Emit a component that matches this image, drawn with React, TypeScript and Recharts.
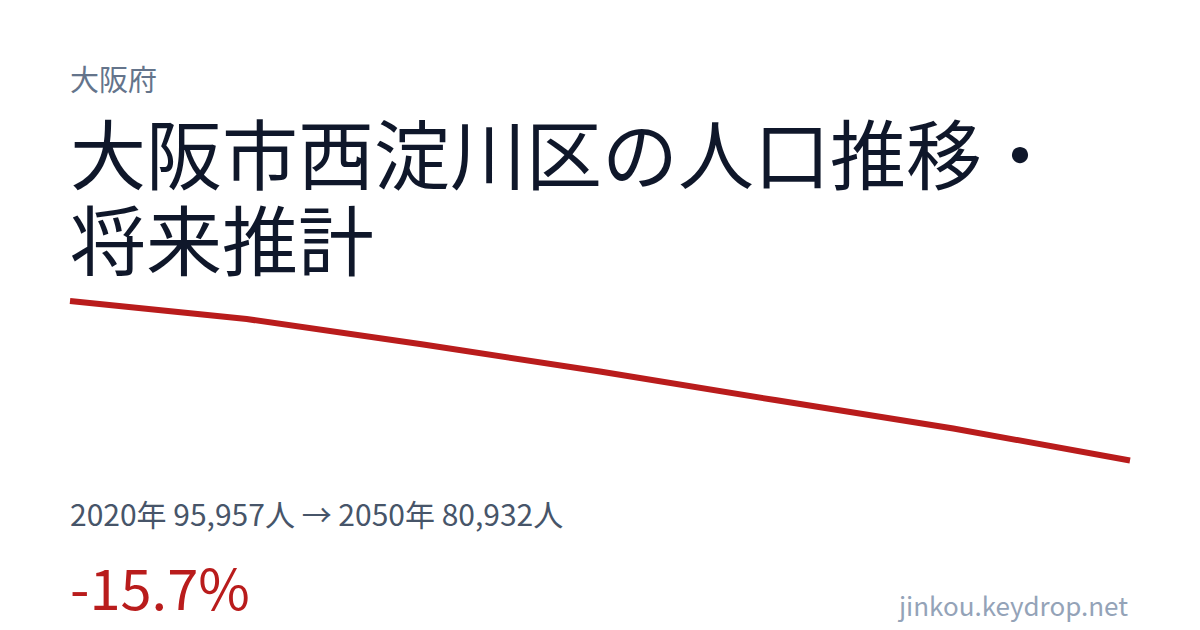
import React from "react";
import { LineChart, Line, XAxis, YAxis } from "recharts";

const years = [2020, 2025, 2030, 2035, 2040, 2045, 2050];
const population = [95957, 94260, 91860, 89320, 86600, 83950, 80932];

const prefecture = "大阪府";
const titleLines = ["大阪市西淀川区の人口推移・", "将来推計"];
const summary = "2020年 95,957人 → 2050年 80,932人";
const change = "-15.7%";
const site = "jinkou.keydrop.net";

const data = years.map((y, i) => ({ year: y, pop: population[i] }));

const FONT = '"Noto Sans CJK JP", "Noto Sans", sans-serif';

export default function App() {
  return (
    <div style={{ position: "absolute", left: 0, top: 0, width: 1200, height: 630, background: "#ffffff", fontFamily: FONT, overflow: "hidden" }}>
      <LineChart
        width={1200}
        height={630}
        data={data}
        margin={{ top: 301, right: 70, bottom: 169.5, left: 70 }}
        style={{ position: "absolute", left: 0, top: 0 }}
      >
        <XAxis dataKey="year" type="number" domain={["dataMin", "dataMax"]} hide />
        <YAxis type="number" domain={["dataMin", "dataMax"]} hide />
        <Line
          type="linear"
          dataKey="pop"
          stroke="#b91c1c"
          strokeWidth={6}
          dot={false}
          activeDot={false}
          isAnimationActive={false}
        />
      </LineChart>
      <div style={{ position: "absolute", left: 70, top: 64, fontSize: 29, lineHeight: 1, color: "#64748b" }}>{prefecture}</div>
      <div style={{ position: "absolute", left: 70, top: 108, fontSize: 76, lineHeight: "86px", color: "#0f172a", whiteSpace: "nowrap" }}>
        {titleLines.map((t, i) => (
          <div key={i}>{t}</div>
        ))}
      </div>
      <div style={{ position: "absolute", left: 70, top: 498, fontSize: 30, lineHeight: 1, color: "#475569", whiteSpace: "nowrap" }}>{summary}</div>
      <div style={{ position: "absolute", left: 70, top: 558, fontSize: 56, lineHeight: 1, color: "#b91c1c", whiteSpace: "nowrap" }}>{change}</div>
      <div style={{ position: "absolute", right: 72, top: 592, fontSize: 26, lineHeight: 1, color: "#94a3b8", whiteSpace: "nowrap" }}>{site}</div>
    </div>
  );
}
